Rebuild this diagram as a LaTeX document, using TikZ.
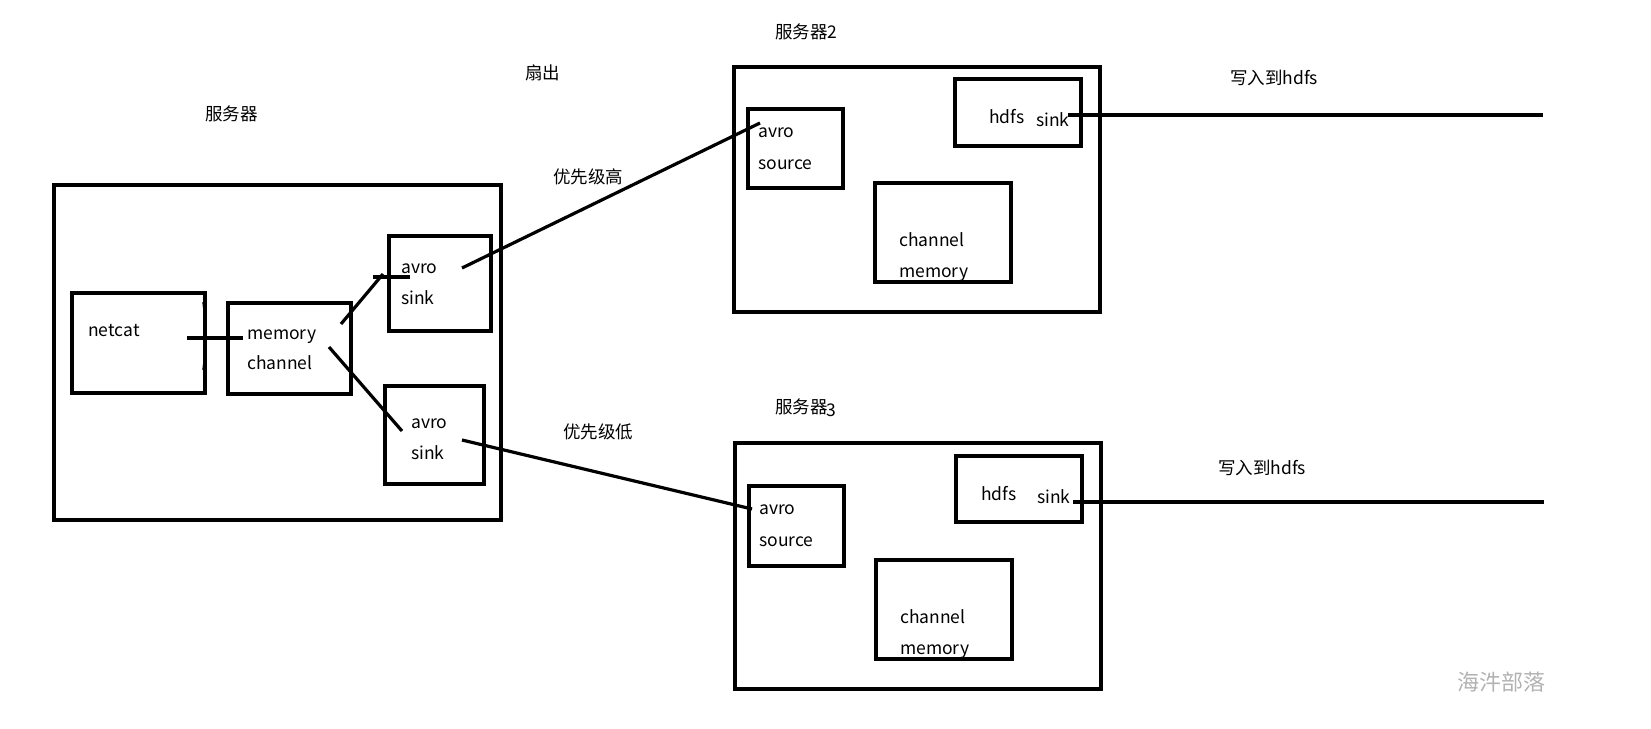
\documentclass[tikz,border=0pt]{standalone}
\usepackage{fontspec}
\setmainfont{Noto Sans CJK SC}
\begin{document}
\begin{tikzpicture}[x=1pt,y=-1pt,
  box/.style={draw,line width=3.2pt,inner sep=0pt},
  lbl/.style={anchor=west,inner sep=0pt,font=\fontsize{17.5}{20}\selectfont},
  txt/.style={anchor=base west,inner sep=0pt,font=\fontsize{17.5}{20}\selectfont},
  conn/.style={line width=3.2pt},
  tickline/.style={line width=1.4pt}]
\useasboundingbox (0,0) rectangle (1651,728);
% boxes
\node[box,minimum width=447pt,minimum height=335pt] (s1) at (277.5,352.5) {};
\node[box,minimum width=133pt,minimum height=100pt] (netcat) at (138.5,343) {};
\node[box,minimum width=123pt,minimum height=91pt] (mem) at (289.5,348.5) {};
\node[box,minimum width=102pt,minimum height=95pt] (sinkA) at (440,283.5) {};
\node[box,minimum width=99pt,minimum height=98pt] (sinkB) at (434.5,435) {};
\node[box,minimum width=366pt,minimum height=245pt] (s2) at (917,189.5) {};
\node[box,minimum width=95pt,minimum height=79pt] (srcA) at (795.5,148.5) {};
\node[box,minimum width=126pt,minimum height=67pt] (hdfsA) at (1018,112.5) {};
\node[box,minimum width=136pt,minimum height=99pt] (chA) at (943,232.5) {};
\node[box,minimum width=366pt,minimum height=246pt] (s3) at (918,566) {};
\node[box,minimum width=95pt,minimum height=80pt] (srcB) at (796.5,526) {};
\node[box,minimum width=126pt,minimum height=66pt] (hdfsB) at (1019,489) {};
\node[box,minimum width=136pt,minimum height=99pt] (chB) at (944,609.5) {};
% texts in boxes
\node[txt] (tnet) at (88,336) {netcat};
\node[txt] (tmem1) at (247,339) {memory};
\node[txt] (tmem2) at (247,369) {channel};
\node[txt] (tsa1) at (401,273) {avro};
\node[txt] (tsa2) at (401,304) {sink};
\node[txt] (tsb1) at (411,428) {avro};
\node[txt] (tsb2) at (411,459) {sink};
\node[txt] (tra1) at (758,137) {avro};
\node[txt] (tra2) at (758,169) {source};
\node[txt] (tha1) at (989,123) {hdfs};
\node[txt] (tha2) at (1036,126) {sink};
\node[txt] (tca1) at (899,246) {channel};
\node[txt] (tca2) at (899,277) {memory};
\node[txt] (trb1) at (759,514) {avro};
\node[txt] (trb2) at (759,546) {source};
\node[txt] (thb1) at (981,500) {hdfs};
\node[txt] (thb2) at (1037,503) {sink};
\node[txt] (tcb1) at (900,623) {channel};
\node[txt] (tcb2) at (900,654) {memory};
% labels
\node[lbl] (l1) at (205,114) {服务器};
\node[lbl] (l2) at (525,73) {扇出};
\node[lbl] (l3) at (775,32) {服务器2};
\node[lbl] (l4) at (553,177) {优先级高};
\node[lbl] (l5) at (563,432) {优先级低};
\node[lbl] (l6) at (775,408) {服务器\kern-1.5pt\raisebox{-3pt}{3}};
\node[lbl] (l7) at (1230,78) {写入到hdfs};
\node[lbl] (l8) at (1218,468) {写入到hdfs};
\node[lbl,font=\fontsize{22}{24}\selectfont,text=black!30] (wm) at (1457,682) {海汼部落};
% connector end points
\coordinate (a1) at (187,338); \coordinate (a2) at (243,338);
\coordinate (b1) at (341,324); \coordinate (b2) at (383,274);
\coordinate (b3) at (373,277); \coordinate (b4) at (410,277);
\coordinate (c1) at (329,347); \coordinate (c2) at (402,431);
\coordinate (d1) at (462,268); \coordinate (d2) at (760,123);
\coordinate (e1) at (462,440); \coordinate (e2) at (752,509);
\coordinate (f1) at (1068,115); \coordinate (f2) at (1543,115);
\coordinate (g1) at (1073,502); \coordinate (g2) at (1544,502);
\coordinate (h1) at (203,302); \coordinate (h2) at (204,311);
\coordinate (h3) at (203,370); \coordinate (h4) at (204,361);
% connectors
\draw[conn] (a1) -- (a2);
\draw[conn] (b1) -- (b2);
\draw[conn] (b3) -- (b4);
\draw[conn] (c1) -- (c2);
\draw[conn] (d1) -- (d2);
\draw[conn] (e1) -- (e2);
\draw[conn] (f1) -- (f2);
\draw[conn] (g1) -- (g2);
\draw[tickline] (h1) -- (h2);
\draw[tickline] (h3) -- (h4);
\end{tikzpicture}
\end{document}
